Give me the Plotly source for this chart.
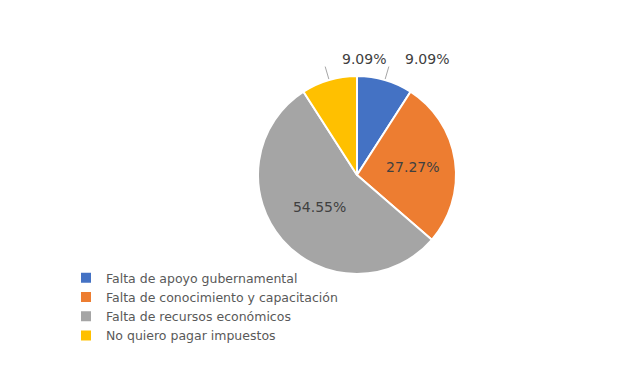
import math
import plotly.graph_objects as go

labels = ["Falta de apoyo gubernamental", "Falta de conocimiento y capacitación",
          "Falta de recursos económicos", "No quiero pagar impuestos"]
values = [1, 3, 6, 1]
colors = ["#4472C4", "#ED7D31", "#A5A5A5", "#FFC000"]
inside_label = [False, True, True, False]

W, H = 636, 372
cx, cy, r = 357, 175, 99
total = sum(values)

fig = go.Figure(go.Pie(
    labels=labels, values=values, sort=False, direction="clockwise", rotation=0,
    marker=dict(colors=colors, line=dict(color="white", width=2)),
    texttemplate="%{percent:.2%}",
    textposition=["inside" if f else "none" for f in inside_label],
    insidetextorientation="horizontal",
    textfont=dict(family="DejaVu Sans", size=14, color="#404040"),
    domain=dict(x=[(cx - r) / W, (cx + r) / W], y=[1 - (cy + r) / H, 1 - (cy - r) / H]),
    showlegend=True, hoverinfo="label+percent",
))

# outside labels with leader lines (Excel style) for the small slices
cum = 0
for v, inside in zip(values, inside_label):
    theta = 2 * math.pi * (cum + v / 2) / total
    cum += v
    if inside:
        continue
    x0 = cx + (r + 1) * math.sin(theta)
    y0 = cy - (r + 1) * math.cos(theta)
    x1 = cx + (r + 14) * math.sin(theta)
    y1 = cy - (r + 14) * math.cos(theta)
    fig.add_shape(type="line", xref="paper", yref="paper",
                  x0=x0 / W, y0=1 - y0 / H, x1=x1 / W, y1=1 - y1 / H,
                  line=dict(color="#A6A6A6", width=1))
    fig.add_annotation(xref="paper", yref="paper", x=(x1 + 14.5) / W, y=1 - (y1 - 8) / H,
                       xanchor="left", yanchor="middle", showarrow=False,
                       text=f"{100 * v / total:.2f}%",
                       font=dict(family="DejaVu Sans", size=14, color="#404040"))

fig.update_layout(
    width=W, height=H, margin=dict(l=0, r=0, t=0, b=0),
    paper_bgcolor="white", plot_bgcolor="white",
    legend=dict(x=66 / W, y=1 - 263 / H, xanchor="left", yanchor="top",
                bgcolor="rgba(0,0,0,0)",
                font=dict(family="DejaVu Sans", size=12.5, color="#595959"),
                itemwidth=30, tracegroupgap=0),
)
fig.write_html("out.html")
